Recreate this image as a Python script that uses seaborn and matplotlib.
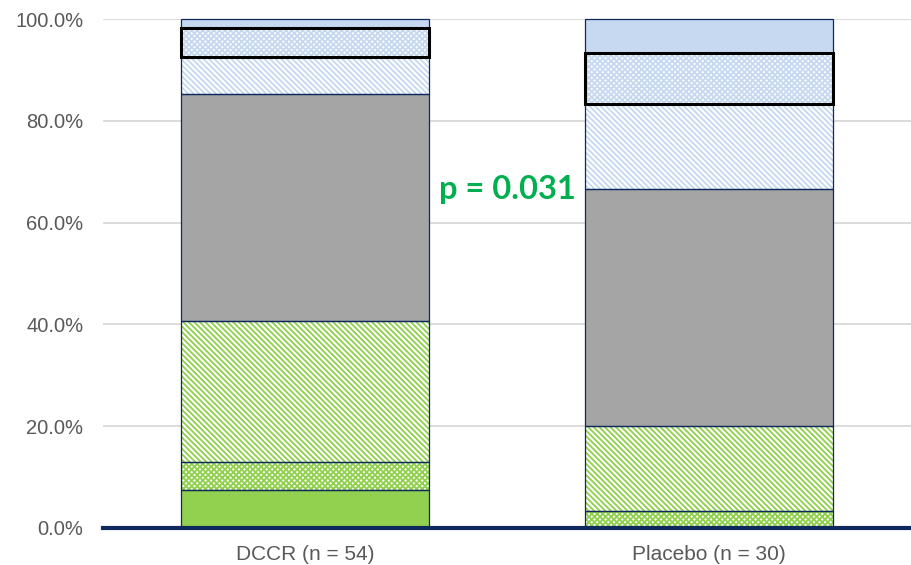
import numpy as np
import pandas as pd
import matplotlib
matplotlib.use("Agg")
import matplotlib.pyplot as plt
import seaborn as sns

# ---- data (participant counts per response category) ----
categories = ["DCCR (n = 54)", "Placebo (n = 30)"]
group_n = [54, 30]
seg_solid_green = [4, 0]
seg_check_green = [3, 1]
seg_diag_green = [15, 5]
seg_gray = [24, 14]
seg_diag_blue = [4, 5]
seg_check_blue = [3, 3]
seg_solid_blue = [1, 2]
yticks = [0, 20, 40, 60, 80, 100]
ytick_labels = ["0.0%", "20.0%", "40.0%", "60.0%", "80.0%", "100.0%"]
p_text = "p = 0.031"

segments = [seg_solid_green, seg_check_green, seg_diag_green, seg_gray,
            seg_diag_blue, seg_check_blue, seg_solid_blue]

GREEN = "#92D050"
GRAY = "#A5A5A5"
BLUE = "#C6D9F0"
NAVY = "#0E2A5C"
DIAG = "\\" * 6
CHECK = "x" * 6
styles = [
    dict(face=GREEN, hatch=None, hcol=GREEN),
    dict(face="white", hatch=CHECK, hcol=GREEN),
    dict(face="white", hatch=DIAG, hcol=GREEN),
    dict(face=GRAY, hatch=None, hcol=GRAY),
    dict(face="white", hatch=DIAG, hcol=BLUE),
    dict(face="white", hatch=CHECK, hcol=BLUE),
    dict(face=BLUE, hatch=None, hcol=BLUE),
]

sns.set_theme(style="white")
plt.rcParams["font.family"] = ["Liberation Sans", "DejaVu Sans"]
plt.rcParams["hatch.linewidth"] = 1.35

fig = plt.figure(figsize=(9.11, 5.65), dpi=100)
ax = fig.add_axes([0.113, 0.0655, 0.887, 0.9008])

BW = 0.616
cum = np.zeros(len(categories))
for k, (seg, st) in enumerate(zip(segments, styles)):
    pct = np.array(seg) / np.array(group_n) * 100.0
    df = pd.DataFrame({"cat": categories, "pct": pct})
    # fill layer
    n0 = len(ax.patches)
    sns.barplot(data=df, x="cat", y="pct", bottom=cum, color=st["face"],
                saturation=1, width=BW, ax=ax, errorbar=None)
    for p in ax.patches[n0:]:
        p.set_facecolor(st["face"])
        p.set_edgecolor(st["hcol"])
        p.set_linewidth(0)
        if st["hatch"]:
            p.set_hatch(st["hatch"])
        p.set_zorder(2)
    # outline layer
    n0 = len(ax.patches)
    sns.barplot(data=df, x="cat", y="pct", bottom=cum, color=st["face"],
                saturation=1, width=BW, ax=ax, errorbar=None)
    boxed = (k == 5)
    for p in ax.patches[n0:]:
        p.set_facecolor("none")
        p.set_edgecolor("black" if boxed else NAVY)
        p.set_linewidth(2.2 if boxed else 0.9)
        p.set_zorder(4 if boxed else 3)
        p.set_clip_on(False)
    cum = cum + pct

ax.set_xlim(-0.5, 1.5)
ax.set_ylim(0, 100)
ax.set_yticks(yticks)
ax.set_yticklabels(ytick_labels)
ax.yaxis.grid(True, color="#D9D9D9", linewidth=1.3)
ax.set_axisbelow(True)
ax.set_xlabel("")
ax.set_ylabel("")
for s in ["top", "right", "left"]:
    ax.spines[s].set_visible(False)
ax.spines["bottom"].set_color(NAVY)
ax.spines["bottom"].set_linewidth(3)
ax.spines["bottom"].set_zorder(5)
ax.tick_params(axis="x", length=0, labelsize=15, colors="#595959", pad=12)
ax.tick_params(axis="y", length=0, labelsize=14.5, colors="#595959", pad=14)

ax.text(0.5, 66.5, p_text, ha="center", va="center", color="#00B050",
        fontsize=23.5, fontweight="bold", family=["Lato", "DejaVu Sans"])

fig.savefig("out.png", dpi=100)
